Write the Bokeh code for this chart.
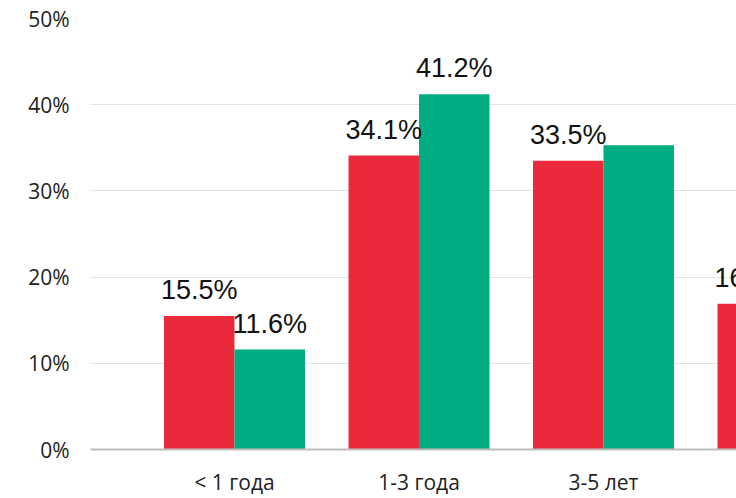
import math
from bokeh.plotting import figure
from bokeh.models import ColumnDataSource, Range1d, FixedTicker, PrintfTickFormatter
from bokeh.transform import dodge
from bokeh.core.properties import value
from bokeh.embed import file_html
from bokeh.resources import INLINE

# ---- data ----
categories = ["< 1 года", "1-3 года", "3-5 лет", "> 5 лет"]
series_a = [15.5, 34.1, 33.5, 16.9]          # red
series_b = [11.6, 41.2, 35.3, float("nan")]  # green (4th not visible in reference)
labels_a = ["15.5%", "34.1%", "33.5%", "16.9%"]
labels_b = ["11.6%", "41.2%", "", ""]
y_ticks = [0, 10, 20, 30, 40, 50]

RED = "#EA2A3B"
GREEN = "#00AC82"

idx = list(range(len(categories)))
src = ColumnDataSource(dict(x=idx, a=series_a, b=series_b, la=labels_a, lb=labels_b))

p = figure(width=736, height=498, output_backend="svg", toolbar_location=None,
           x_range=Range1d(-0.7805, 2.721), y_range=Range1d(0, 50),
           min_border_left=90, min_border_right=0, min_border_top=18, min_border_bottom=48)
p.outline_line_color = None
p.background_fill_color = "white"
p.border_fill_color = "white"

bw = 0.382
p.vbar(x=dodge("x", -bw / 2), top="a", width=bw, source=src, fill_color=RED, line_color=None)
p.vbar(x=dodge("x", bw / 2), top="b", width=bw, source=src, fill_color=GREEN, line_color=None)

p.text(x=dodge("x", -bw / 2), y="a", text="la", source=src, text_align="center",
       text_baseline="alphabetic", y_offset=-26, text_font=value("Liberation Sans"),
       text_font_size="27px", text_color="#111111")
p.text(x=dodge("x", bw / 2), y="b", text="lb", source=src, text_align="center",
       text_baseline="alphabetic", y_offset=-26, text_font=value("Liberation Sans"),
       text_font_size="27px", text_color="#111111")

# axes
p.xaxis.ticker = FixedTicker(ticks=idx)
p.xaxis.major_label_overrides = {i: c for i, c in zip(idx, categories)}
p.xaxis.axis_line_color = "#BDBDBD"
p.xaxis.axis_line_width = 2
p.xaxis.major_tick_line_color = None
p.xaxis.minor_tick_line_color = None
p.xaxis.major_tick_out = 0
p.xaxis.major_label_standoff = 18
p.xaxis.major_label_text_font = "Open Sans"
p.xaxis.major_label_text_font_size = "21px"
p.xaxis.major_label_text_color = "#222222"

p.yaxis.ticker = FixedTicker(ticks=y_ticks)
p.yaxis.formatter = PrintfTickFormatter(format="%d%%")
p.yaxis.axis_line_color = None
p.yaxis.major_tick_line_color = None
p.yaxis.minor_tick_line_color = None
p.yaxis.major_tick_out = 0
p.yaxis.major_label_standoff = 21
p.yaxis.major_label_text_font = "Open Sans"
p.yaxis.major_label_text_font_size = "21px"
p.yaxis.major_label_text_color = "#222222"

p.xgrid.grid_line_color = None
p.ygrid.ticker = FixedTicker(ticks=y_ticks)
p.ygrid.grid_line_color = "#E4E4E4"
p.ygrid.grid_line_width = 1

open("out.html", "w").write(file_html(p, INLINE))
